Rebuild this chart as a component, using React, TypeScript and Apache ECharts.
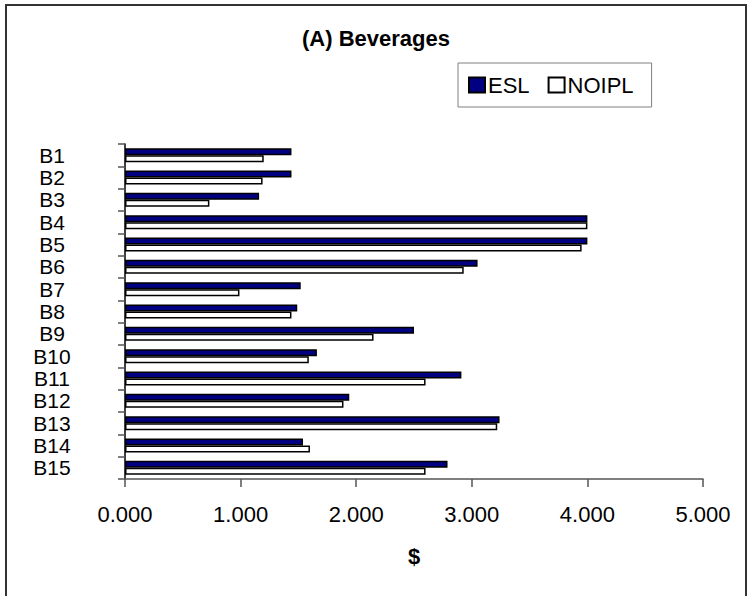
import React, { useEffect, useRef } from "react";
import * as echarts from "echarts";

const categories = ["B1", "B2", "B3", "B4", "B5", "B6", "B7", "B8", "B9", "B10", "B11", "B12", "B13", "B14", "B15"];
const eslValues = [1.44, 1.44, 1.16, 4.0, 4.0, 3.05, 1.52, 1.49, 2.5, 1.66, 2.91, 1.94, 3.24, 1.54, 2.79];
const noiplValues = [1.2, 1.19, 0.73, 4.0, 3.95, 2.93, 0.99, 1.44, 2.15, 1.59, 2.6, 1.89, 3.22, 1.6, 2.6];
const xTicks = { min: 0, max: 5, interval: 1 };

const FONT = "'Liberation Sans', Arial, sans-serif";

export default function App() {
  const ref = useRef<HTMLDivElement>(null);
  useEffect(() => {
    document.body.style.margin = "0";
    if (!ref.current) return;
    const chart = echarts.init(ref.current, null, { renderer: "svg" });
    chart.setOption({
      animation: false,
      backgroundColor: "#fff",
      title: {
        text: "(A) Beverages",
        left: 302,
        top: 27,
        padding: 0,
        textStyle: { fontFamily: FONT, fontSize: 22, fontWeight: "bold", color: "#000" },
      },
      legend: {
        left: 458,
        top: 63,
        padding: [11, 18, 11, 10],
        itemGap: 18,
        itemWidth: 16,
        itemHeight: 15,
        icon: "rect",
        borderColor: "#808080",
        borderWidth: 1,
        textStyle: { fontFamily: FONT, fontSize: 22, color: "#000", padding: [0, 0, 0, -2] },
        data: ["ESL", "NOIPL"],
      },
      graphic: [
        {
          type: "rect",
          shape: { x: 6, y: 5, width: 740, height: 640 },
          style: { fill: "none", stroke: "#333", lineWidth: 2 },
        },
      ],
      grid: { left: 125, right: 47, top: 144, bottom: 117, containLabel: false },
      xAxis: {
        type: "value",
        min: xTicks.min,
        max: xTicks.max,
        interval: xTicks.interval,
        name: "$",
        nameLocation: "middle",
        nameGap: 66,
        nameTextStyle: { fontFamily: FONT, fontSize: 22, fontWeight: "bold", color: "#000" },
        axisLine: { show: true, lineStyle: { color: "#555", width: 1.5 } },
        axisTick: { show: true, length: 8, lineStyle: { color: "#555", width: 1.5 } },
        splitLine: { show: false },
        axisLabel: {
          fontFamily: FONT,
          fontSize: 22,
          color: "#000",
          margin: 24,
          formatter: (v: number) => v.toFixed(3),
        },
      },
      yAxis: {
        type: "category",
        data: categories,
        inverse: true,
        axisLine: { show: true, lineStyle: { color: "#000", width: 1.5 } },
        axisTick: { show: true, length: 7, interval: 0, lineStyle: { color: "#555", width: 1.5 } },
        axisLabel: {
          fontFamily: FONT,
          fontSize: 21,
          color: "#000",
          align: "center",
          margin: 73,
          interval: 0,
          lineHeight: 20,
        },
      },
      series: [
        {
          name: "ESL",
          type: "bar",
          data: eslValues,
          barWidth: 7,
          barGap: "0%",
          itemStyle: { color: "#000080", borderColor: "#000", borderWidth: 1.5 },
        },
        {
          name: "NOIPL",
          type: "bar",
          data: noiplValues,
          barWidth: 7,
          barGap: "0%",
          itemStyle: { color: "#fff", borderColor: "#000", borderWidth: 1.5 },
        },
      ],
    });
    return () => chart.dispose();
  }, []);
  return <div ref={ref} style={{ width: 750, height: 596 }} />;
}
